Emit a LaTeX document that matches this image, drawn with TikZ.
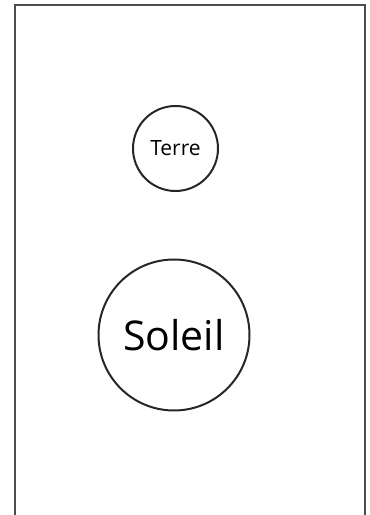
\documentclass[tikz,border=0pt]{standalone}
\usepackage{fontspec}
\setmainfont{Open Sans}
\usepackage{tikz}

\begin{document}
\begin{tikzpicture}[x=1pt, y=1pt,
    body/.style={circle, draw=black!85, line width=2pt, inner sep=0pt}]
    % --- canvas (370 x 515) ---
    \useasboundingbox (0,0) rectangle (370,515);

    % --- frame, open at the bottom ---
    \draw[line width=2pt, black!70] (15,0) -- (15,510) -- (365,510) -- (365,0);

    % --- Earth (small, top) ---
    \node[body, minimum size=85pt, font=\fontsize{21}{24}\selectfont] (terre) at (175.5,366.5) {Terre};

    % --- Sun (large, bottom) ---
    \node[body, minimum size=151pt, font=\fontsize{41}{46}\selectfont] (soleil) at (174,180) {Soleil};
\end{tikzpicture}
\end{document}
